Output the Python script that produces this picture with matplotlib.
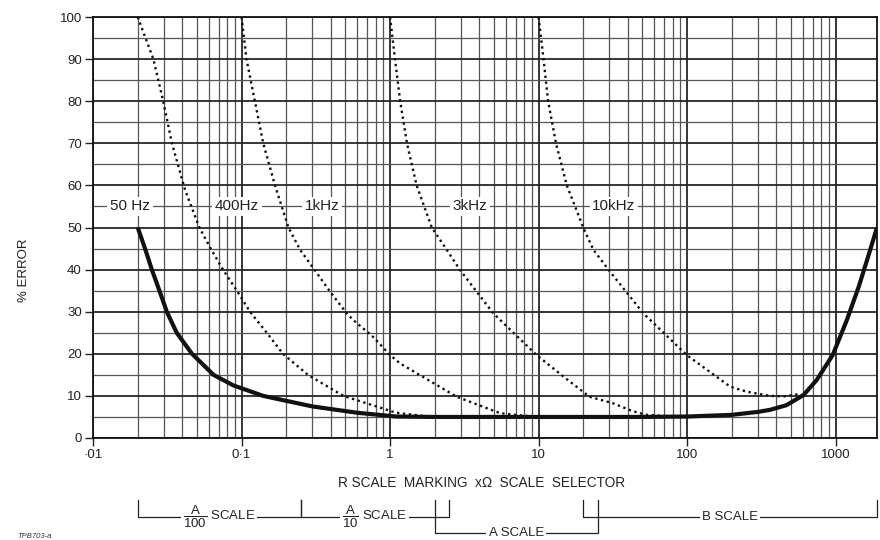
import numpy as np
import matplotlib
matplotlib.use('Agg')
import matplotlib.pyplot as plt
from matplotlib.ticker import FixedLocator, NullFormatter

plt.rcParams['font.family'] = ['Liberation Sans', 'DejaVu Sans']
plt.rcParams['mathtext.fontset'] = 'custom'
plt.rcParams['mathtext.rm'] = 'Liberation Sans'

# values (x = R scale marking, y = % error)
hz50_x = [0.02, 0.0224, 0.0249, 0.028, 0.0314, 0.0366, 0.0464, 0.0648, 0.088, 0.14, 0.3, 0.6,
          1.1, 2, 10, 50, 100, 200, 300, 363, 467, 608, 747, 956, 1190, 1430, 1630, 1900]
hz50_y = [50, 45, 40, 35, 30, 25, 20, 15, 12.5, 10, 7.5, 6,
          5.1, 5, 5, 5, 5.1, 5.5, 6.2, 6.7, 7.8, 10.2, 13.8, 19.7, 28, 35.9, 42.3, 50]

hz400_x = [0.02, 0.0255, 0.0297, 0.034, 0.0416, 0.052, 0.062, 0.075, 0.093, 0.114, 0.148,
           0.19, 0.28, 0.485, 0.81, 1.1, 1.8]
hz400_y = [100, 90, 80, 70, 59, 50, 45, 40, 35, 30, 25, 20, 15, 10, 7.5, 6, 5.1]

khz1_x = [0.1, 0.108, 0.123, 0.14, 0.168, 0.207, 0.248, 0.305, 0.394, 0.511, 0.566, 0.77,
          1.0, 1.17, 2.81, 5.5, 9]
khz1_y = [100, 90, 80, 70, 60, 50, 44.7, 40.3, 34.8, 29.6, 28, 24, 19.7, 17.7, 9.8, 5.9, 5.1]

khz3_x = [1, 1.08, 1.17, 1.3, 1.51, 1.91, 2.41, 2.96, 4.96, 9.7, 14.7, 22, 32, 42, 53, 80]
khz3_y = [100, 90, 80, 70, 60, 50, 44.7, 39.9, 29.6, 19.7, 14.6, 9.8, 8.2, 6.5, 5.5, 5.1]

khz10_x = [10, 10.8, 11.6, 13.1, 15.5, 20, 23.4, 30.3, 50.8, 99.5, 195, 252, 362, 450, 560]
khz10_y = [100, 90, 80, 70, 60, 50, 44.7, 39.5, 29.6, 19.7, 12.2, 11, 10, 9.9, 10.4]

curve_labels = ['50 Hz', '400Hz', '1kHz', '3kHz', '10kHz']
label_x = [0.0177, 0.093, 0.348, 3.46, 32.2]
label_y = 55

xtick_vals = [0.01, 0.1, 1, 10, 100, 1000]
xtick_labels = ['\u00b701', '0\u00b71', '1', '10', '100', '1000']

# selector ranges drawn under the axis
scale_names = [r'$\dfrac{\mathrm{A}}{\mathrm{100}}$ SCALE', r'$\dfrac{\mathrm{A}}{\mathrm{10}}$ SCALE',
               'A SCALE', 'B SCALE']
scale_lo = [0.02, 0.25, 2, 20]
scale_hi = [0.25, 2.5, 25, 1900]
scale_row = [0, 0, 1, 0]

fig = plt.figure(figsize=(8.8, 5.4), dpi=100)
ax = fig.add_axes([93 / 880, 1 - 438 / 540, 784 / 880, 421 / 540])
ax.set_xscale('log')
ax.set_xlim(0.01, 1900)
ax.set_ylim(0, 100)

ax.xaxis.set_major_locator(FixedLocator(xtick_vals))
ax.set_xticklabels(xtick_labels)
minor = [m * d for d in xtick_vals for m in range(2, 10)]
ax.xaxis.set_minor_locator(FixedLocator([v for v in minor if v < 1900]))
ax.xaxis.set_minor_formatter(NullFormatter())
ax.set_yticks(np.arange(0, 101, 10))
ax.set_yticks(np.arange(5, 100, 10), minor=True)

ax.grid(which='major', color='#262626', lw=1.3)
ax.grid(which='minor', color='#555555', lw=0.9)
ax.set_axisbelow(True)
ax.tick_params(which='major', length=6, width=1, color='#222', labelsize=9.5, labelcolor='#222', pad=2)
ax.tick_params(which='minor', length=0)
for s in ax.spines.values():
    s.set_color('#111')
    s.set_linewidth(1.3)

ax.plot(hz50_x, hz50_y, color='#111', lw=3.0, solid_capstyle='butt', solid_joinstyle='round', zorder=5)
for xs, ys in [(hz400_x, hz400_y), (khz1_x, khz1_y), (khz3_x, khz3_y), (khz10_x, khz10_y)]:
    ax.plot(xs, ys, color='#111', lw=1.7, linestyle=(0, (1, 1.5)), zorder=4)

for lab, lx in zip(curve_labels, label_x):
    ax.text(lx, label_y, lab, ha='center', va='center', fontsize=11, color='#222',
            zorder=3, bbox=dict(facecolor='white', edgecolor='none', pad=2))

fig.text(24 / 880, 0.5, '% ERROR', rotation=90,
         ha='center', va='center', fontsize=9.5, color='#222')
fig.text(482 / 880, 1 - 483 / 540, 'R SCALE  MARKING  x\u03a9  SCALE  SELECTOR',
         ha='center', va='center', fontsize=9.8, color='#222')
fig.text(17 / 880, 1 - 536 / 540, 'TPB703-a', ha='left', va='center', fontsize=5.5,
         style='italic', color='#333')

# brackets
tr = ax.get_xaxis_transform()
top_y = -0.147
row_y = [-0.188, -0.226]
for name, lo, hi, r in zip(scale_names, scale_lo, scale_hi, scale_row):
    yb = row_y[r]
    ax.plot([lo, lo, hi, hi], [top_y, yb, yb, top_y], color='#222', lw=0.9,
            transform=tr, clip_on=False)
    xm = np.sqrt(lo * hi)
    ax.text(xm, yb, name, transform=tr, ha='center', va='center', fontsize=9.5,
            color='#222', clip_on=False,
            bbox=dict(facecolor='white', edgecolor='none', pad=1.5))

fig.savefig('out.png', dpi=100, facecolor='white')
